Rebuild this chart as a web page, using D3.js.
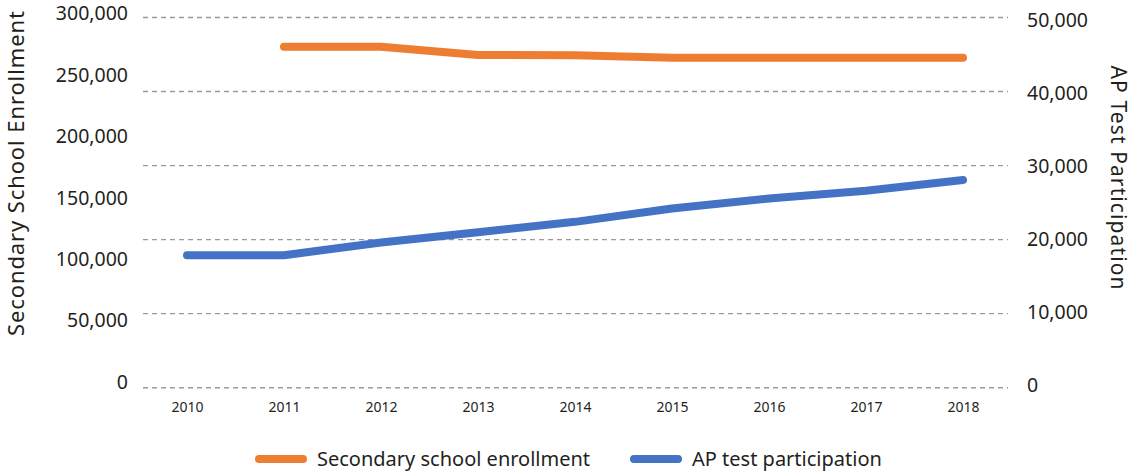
<!DOCTYPE html>
<html>
<head>
<meta charset="utf-8">
<script src="https://cdn.jsdelivr.net/npm/d3@7"></script>
<style>
  html, body { margin: 0; padding: 0; background: #fff; }
  svg { display: block; font-family: "Noto Sans", "Open Sans", sans-serif; }
</style>
</head>
<body>
<svg id="chart" width="1134" height="471"></svg>
<script>
// Years on the x axis
const years = [2010, 2011, 2012, 2013, 2014, 2015, 2016, 2017, 2018];

// Secondary school enrollment (left axis); no value reported for 2010
const enrollment = [null, 276350, 276350, 269600, 269400, 267400, 267400, 267400, 267400];

// AP test participation (right axis)
const apParticipation = [17900, 17900, 19600, 21000, 22400, 24200, 25550, 26600, 28050];

// Axis tick values
const leftTicks = [0, 50000, 100000, 150000, 200000, 250000, 300000];
const rightTicks = [0, 10000, 20000, 30000, 40000, 50000];

const seriesNames = ["Secondary school enrollment", "AP test participation"];
const seriesColors = ["#ED7D31", "#4472C4"];

const svg = d3.select("#chart");
const textColor = "#231f20";

const plotTop = 17.5, plotBottom = 387.7;
const gridLeft = 143, gridRight = 1008;

const x = d3.scalePoint().domain(years).range([187, 963]);
const yLeft = d3.scaleLinear().domain([0, 300000]).range([plotBottom, plotTop]);
const yRight = d3.scaleLinear().domain([0, 50000]).range([plotBottom, plotTop]);

const fmt = d3.format(",");

// Dashed horizontal gridlines, one per right-axis tick
svg.append("g")
  .selectAll("line")
  .data(rightTicks)
  .join("line")
  .attr("x1", gridLeft)
  .attr("x2", gridRight)
  .attr("y1", d => yRight(d))
  .attr("y2", d => yRight(d))
  .attr("stroke", "#9a9a9a")
  .attr("stroke-width", 1.4)
  .attr("stroke-dasharray", "5,4");

// Left axis labels, spread evenly down the axis
const leftLabelScale = yLeft.copy().range([382, 13.7]);
const leftAxis = d3.axisLeft(leftLabelScale).tickValues(leftTicks).tickFormat(fmt).tickSize(0).tickPadding(0);
const gLeft = svg.append("g").attr("transform", "translate(128,0)").call(leftAxis);
gLeft.select(".domain").remove();
gLeft.selectAll("text")
  .attr("fill", textColor)
  .style("font-size", "19.5px")
  .style("font-family", "\"Noto Sans\", sans-serif");

// Right axis labels
const rightLabelScale = yRight.copy().range([385.7, 20.3]);
const rightAxis = d3.axisRight(rightLabelScale).tickValues(rightTicks).tickFormat(fmt).tickSize(0).tickPadding(0);
const gRight = svg.append("g").attr("transform", "translate(1027,0)").call(rightAxis);
gRight.select(".domain").remove();
gRight.selectAll("text")
  .attr("fill", textColor)
  .style("font-size", "19.5px")
  .style("font-family", "\"Noto Sans\", sans-serif");

// Bottom axis year labels
const xAxis = d3.axisBottom(x).tickSize(0).tickPadding(0).tickFormat(d3.format("d"));
const gX = svg.append("g").attr("transform", "translate(0,402)").call(xAxis);
gX.select(".domain").remove();
gX.selectAll("text")
  .attr("fill", textColor)
  .style("font-size", "14px")
  .style("font-family", "\"Noto Sans\", sans-serif");

// Axis titles
svg.append("text")
  .attr("transform", "translate(24,173.5) rotate(-90)")
  .attr("text-anchor", "middle")
  .attr("fill", textColor)
  .attr("textLength", 325)
  .attr("lengthAdjust", "spacing")
  .style("font-size", "22px")
  .text("Secondary School Enrollment");

svg.append("text")
  .attr("transform", "translate(1111,177.5) rotate(90)")
  .attr("text-anchor", "middle")
  .attr("fill", textColor)
  .attr("textLength", 224)
  .attr("lengthAdjust", "spacing")
  .style("font-size", "21px")
  .text("AP Test Participation");

// Series lines
const enrollmentLine = d3.line()
  .defined(d => d.v != null)
  .x(d => x(d.year))
  .y(d => yLeft(d.v));

const apLine = d3.line()
  .x(d => x(d.year))
  .y(d => yRight(d.v));

svg.append("path")
  .datum(years.map((year, i) => ({ year, v: enrollment[i] })))
  .attr("d", enrollmentLine)
  .attr("fill", "none")
  .attr("stroke", seriesColors[0])
  .attr("stroke-width", 8)
  .attr("stroke-linecap", "round")
  .attr("stroke-linejoin", "round");

svg.append("path")
  .datum(years.map((year, i) => ({ year, v: apParticipation[i] })))
  .attr("d", apLine)
  .attr("fill", "none")
  .attr("stroke", seriesColors[1])
  .attr("stroke-width", 8)
  .attr("stroke-linecap", "round")
  .attr("stroke-linejoin", "round");

// Legend
const legendItems = [
  { name: seriesNames[0], color: seriesColors[0], x: 259 },
  { name: seriesNames[1], color: seriesColors[1], x: 634 }
];
const legend = svg.append("g").attr("transform", "translate(0,459)");
const li = legend.selectAll("g").data(legendItems).join("g")
  .attr("transform", d => `translate(${d.x},0)`);
li.append("line")
  .attr("x1", 0).attr("x2", 44)
  .attr("y1", 0).attr("y2", 0)
  .attr("stroke", d => d.color)
  .attr("stroke-width", 8)
  .attr("stroke-linecap", "round");
li.append("text")
  .attr("x", 58)
  .attr("y", 0)
  .attr("dy", "0.35em")
  .attr("fill", textColor)
  .style("font-size", "20px")
  .text(d => d.name);
</script>
</body>
</html>
